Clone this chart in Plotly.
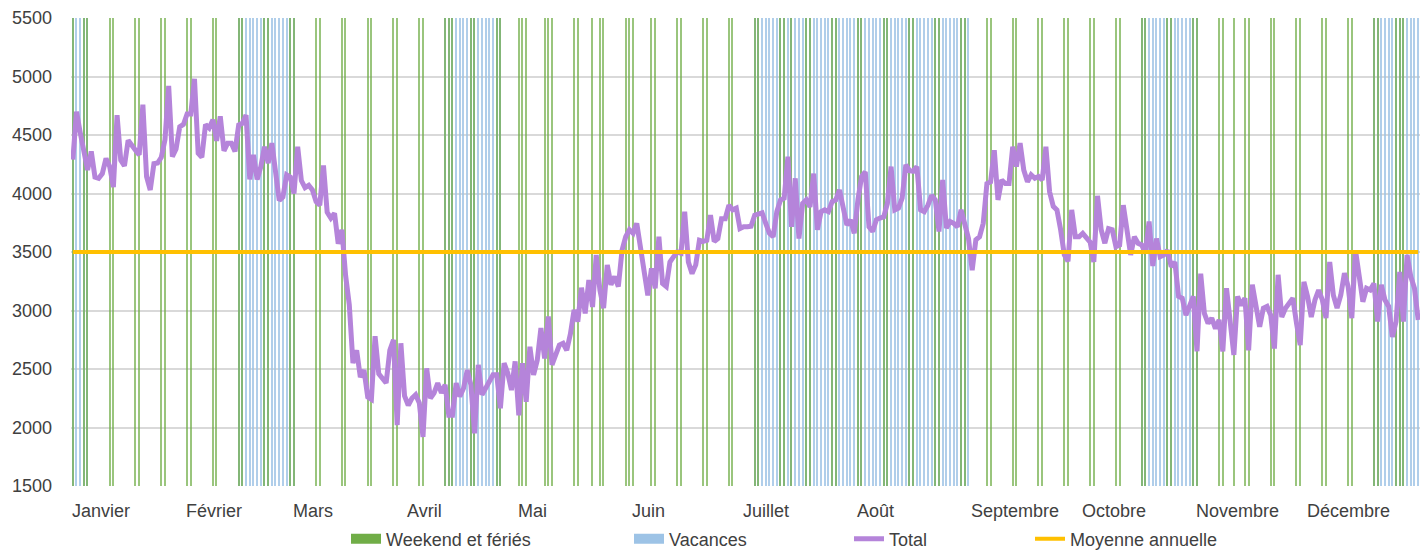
import pandas as pd
import plotly.graph_objects as go

# ---- Data (year 2020, daily) ----
janvier = [4290, 4700, 4520, 4350, 4200, 4360, 4140, 4130, 4170, 4300, 4230, 4055, 4670, 4285, 4235, 4455,
           4420, 4370, 4330, 4760, 4145, 4030, 4255, 4260, 4310, 4460, 4920, 4315, 4380, 4570, 4590]
fevrier = [4680, 4680, 4980, 4345, 4310, 4590, 4560, 4630, 4450, 4660, 4365, 4430, 4430, 4360, 4585,
           4600, 4670, 4120, 4330, 4120, 4230, 4400, 4260, 4430, 4170, 3940, 3970, 4160, 4140]
mars = [4000, 4400, 4110, 4050, 4070, 4030, 3930, 3900, 4240, 3840, 3790, 3830, 3570, 3690, 3300, 3050,
        2550, 2660, 2430, 2490, 2260, 2240, 2780, 2460, 2410, 2380, 2660, 2750, 2020, 2720, 2270]
avril = [2190, 2250, 2280, 2210, 1920, 2505, 2250, 2295, 2380, 2295, 2365, 2105, 2105, 2380, 2265,
         2335, 2490, 2365, 1950, 2535, 2280, 2335, 2390, 2450, 2450, 2165, 2550, 2465, 2320, 2565]
mai = [2105, 2550, 2220, 2690, 2450, 2575, 2850, 2590, 2950, 2535, 2620, 2705, 2720, 2660, 2800, 3005,
       2905, 3195, 2975, 3260, 3030, 3475, 3175, 3020, 3390, 3220, 3290, 3205, 3515, 3630, 3690]
juin = [3660, 3745, 3545, 3375, 3130, 3360, 3190, 3630, 3230, 3205, 3415, 3460, 3500, 3490, 3845,
        3415, 3315, 3390, 3600, 3590, 3600, 3815, 3590, 3615, 3785, 3785, 3900, 3860, 3875, 3700]
juillet = [3715, 3715, 3720, 3815, 3830, 3835, 3745, 3660, 3630, 3845, 3945, 3960, 4315, 3715, 4130, 3615,
           3915, 3945, 3885, 4170, 3690, 3845, 3860, 3845, 3930, 3945, 4030, 3900, 3730, 3775, 3660]
aout = [3945, 4145, 4185, 3715, 3675, 3775, 3790, 3800, 3915, 4230, 3860, 3875, 3960, 4245, 4195, 4190,
        4230, 3860, 3845, 3900, 3985, 3945, 3675, 4115, 3705, 3760, 3745, 3715, 3860, 3715, 3615]
septembre = [3345, 3605, 3630, 3745, 4085, 4100, 4370, 3945, 4115, 4085, 4085, 4400, 4230, 4430, 4200,
             4100, 4160, 4130, 4145, 4115, 4400, 4015, 3890, 3860, 3690, 3475, 3420, 3860, 3630, 3630]
octobre = [3660, 3615, 3585, 3415, 3980, 3690, 3575, 3700, 3690, 3545, 3560, 3900, 3690, 3475, 3630, 3575,
           3560, 3490, 3760, 3380, 3615, 3460, 3475, 3515, 3375, 3415, 3120, 3105, 2960, 3045, 3120]
novembre = [2650, 3315, 2975, 2890, 2935, 2845, 2920, 2650, 3190, 2920, 2620, 3120, 3045, 3105, 2660,
            3220, 3035, 2860, 3020, 3035, 2960, 2675, 3305, 2945, 3020, 3060, 3105, 2890, 2705, 3245]
decembre = [3120, 2945, 3090, 3175, 3090, 2935, 3415, 3130, 3020, 3130, 3320, 3205, 2935, 3515, 3290, 3075,
            3190, 3175, 3230, 2905, 3220, 3090, 3035, 2775, 2905, 3330, 2905, 3475, 3290, 3190, 2920]

moyenne_annuelle = 3500

jours_feries = ["2020-01-01", "2020-04-13", "2020-05-01", "2020-05-08", "2020-05-21", "2020-06-01",
                "2020-07-14", "2020-08-15", "2020-11-01", "2020-11-11", "2020-12-25"]
periodes_vacances = [("2020-01-01", "2020-01-05"), ("2020-02-15", "2020-03-01"), ("2020-04-11", "2020-04-26"),
                     ("2020-07-04", "2020-08-31"), ("2020-10-17", "2020-11-01"), ("2020-12-19", "2020-12-31")]

mois_labels = ["Janvier", "Février", "Mars", "Avril", "Mai", "Juin", "Juillet", "Août",
               "Septembre", "Octobre", "Novembre", "Décembre"]

# ---- Build series ----
total = (janvier + fevrier + mars + avril + mai + juin + juillet + aout + septembre
         + octobre + novembre + decembre)
dates = pd.date_range("2020-01-01", "2020-12-31", freq="D")
assert len(dates) == len(total)

feries = set(pd.to_datetime(jours_feries))
weekend_days = [d for d in dates if d.weekday() >= 5 or d in feries]
vac_days = []
for a, b in periodes_vacances:
    vac_days += list(pd.date_range(a, b, freq="D"))

YMIN, YMAX = 1500, 5500
DAY_MS = 86400000

GREEN = "#70AD47"
BLUE = "#9DC3E6"
PURPLE = "#B584DA"
ORANGE = "#FFC000"
TXT = "#404040"
FONT = "Liberation Sans, Arial, sans-serif"
FS = 18

fig = go.Figure()

fig.add_trace(go.Bar(x=vac_days, y=[YMAX] * len(vac_days), width=0.33 * DAY_MS, opacity=0.8,
                     marker=dict(color=BLUE, line=dict(width=0)), showlegend=False, hoverinfo="skip"))
fig.add_trace(go.Bar(x=weekend_days, y=[YMAX] * len(weekend_days), width=0.33 * DAY_MS, opacity=0.7,
                     marker=dict(color=GREEN, line=dict(width=0)), showlegend=False, hoverinfo="skip"))

fig.add_trace(go.Scatter(x=dates, y=total, mode="lines", line=dict(color=PURPLE, width=5),
                         showlegend=False))
fig.add_trace(go.Scatter(x=dates, y=[moyenne_annuelle] * len(dates), mode="lines",
                         line=dict(color=ORANGE, width=4), showlegend=False))

# legend entries
fig.add_trace(go.Scatter(x=[None], y=[None], mode="lines", line=dict(color=GREEN, width=14),
                         name="Weekend et fériés", legend="legend"))
fig.add_trace(go.Scatter(x=[None], y=[None], mode="lines", line=dict(color=BLUE, width=14),
                         name="Vacances", legend="legend2"))
fig.add_trace(go.Scatter(x=[None], y=[None], mode="lines", line=dict(color=PURPLE, width=5),
                         name="Total", legend="legend3"))
fig.add_trace(go.Scatter(x=[None], y=[None], mode="lines", line=dict(color=ORANGE, width=4),
                         name="Moyenne annuelle", legend="legend4"))

PL, PR, PT, PB = 71, 1420, 18, 486
def px_to_paper(px):
    return (px - PL) / (PR - PL)

leg_y = (PB - 539) / float(PB - PT)
leg_common = dict(orientation="h", yanchor="middle", y=leg_y, xanchor="left",
                  font=dict(family=FONT, size=FS, color=TXT), bgcolor="rgba(0,0,0,0)",
                  borderwidth=0, itemwidth=30)

month_starts = pd.date_range("2020-01-01", "2020-12-01", freq="MS")
annotations = [dict(x=d, y=0, xref="x", yref="paper", text=lab, showarrow=False,
                    xanchor="left", yanchor="middle", yshift=-25, xshift=-3,
                    font=dict(family=FONT, size=FS, color=TXT))
               for d, lab in zip(month_starts, mois_labels)]

fig.update_layout(
    template="none",
    width=1424, height=550,
    margin=dict(l=PL, r=1424 - PR, t=PT, b=550 - PB, autoexpand=False),
    plot_bgcolor="white", paper_bgcolor="white",
    barmode="overlay", bargap=0,
    font=dict(family=FONT, size=FS, color=TXT),
    annotations=annotations,
    legend=dict(leg_common, x=px_to_paper(346)),
    legend2=dict(leg_common, x=px_to_paper(629)),
    legend3=dict(leg_common, x=px_to_paper(849)),
    legend4=dict(leg_common, x=px_to_paper(1030)),
    xaxis=dict(type="date", range=[pd.Timestamp("2019-12-31 12:00"), pd.Timestamp("2020-12-31 12:00")],
               showgrid=False, showticklabels=False, ticks="", zeroline=False, showline=False,
               automargin=False, fixedrange=True),
    yaxis=dict(range=[YMIN, YMAX], dtick=500, tick0=0, showgrid=True, gridcolor="#D9D9D9", gridwidth=1.5,
               zeroline=False, showline=False, ticks="", ticklabelstandoff=18, automargin=False,
               tickfont=dict(family=FONT, size=FS, color=TXT), fixedrange=True),
)

fig.write_html("out.html", config={"displayModeBar": False},
               post_script="document.body.style.margin='0';document.body.style.overflow='hidden';")
